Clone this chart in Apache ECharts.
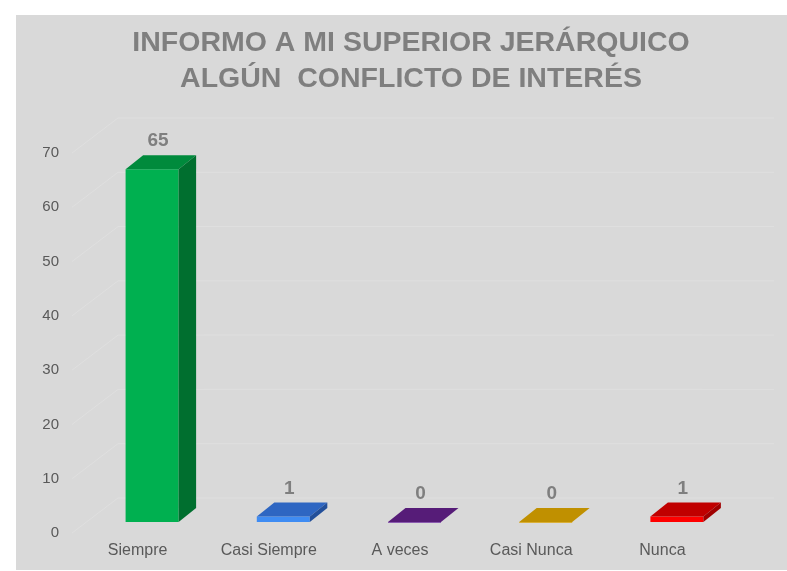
<!DOCTYPE html>
<html>
<head>
<meta charset="utf-8">
<script src="https://cdn.jsdelivr.net/npm/echarts@6/dist/echarts.min.js"></script>
<style>
  html, body { margin: 0; padding: 0; background: #ffffff; }
  #main { position: absolute; left: 16px; top: 15px; width: 771px; height: 555px; background: #d9d9d9; }
</style>
</head>
<body>
<div id="main"></div>
<script>
// datos
const categories = ['Siempre', 'Casi Siempre', 'A veces', 'Casi Nunca', 'Nunca'];
const values = [65, 1, 0, 0, 1];
const yTicks = [0, 10, 20, 30, 40, 50, 60, 70];

const frontColors = ['#00b050', '#3f8cf3', '#7030a0', '#d9a000', '#ff0000'];
const topColors = ['#008a3c', '#2e66c2', '#561c78', '#c09000', '#c00000'];
const sideColors = ['#006f2f', '#224f9a', '#3f1258', '#8f6a00', '#a00000'];

// perspectiva 3D (px)
const floorDx = 46, floorDy = 35;      // profundidad del piso
const barOffX = 14.5, barOffY = 11;    // cara frontal de la barra
const barDx = 17.5, barDy = 14;        // profundidad de la barra

const myChart = echarts.init(document.getElementById('main'));

myChart.setOption({
    animation: false,
    title: {
        text: 'INFORMO A MI SUPERIOR JERÁRQUICO\nALGÚN  CONFLICTO DE INTERÉS',
        left: 390,
        top: 5,
        textAlign: 'center',
        textStyle: {
            fontFamily: 'Liberation Sans, Arial',
            fontSize: 28.5,
            fontWeight: 'bold',
            color: '#7f7f7f',
            lineHeight: 36
        }
    },
    grid: {
        left: 56,
        right: 59,
        top: 138,
        bottom: 37
    },
    xAxis: {
        type: 'category',
        data: categories,
        axisLine: { show: false },
        axisTick: { show: false },
        axisLabel: {
            color: '#595959',
            fontFamily: 'Liberation Sans, Arial',
            fontSize: 16,
            margin: 10,
            interval: 0
        }
    },
    yAxis: {
        type: 'value',
        min: 0,
        max: 70,
        interval: 10,
        axisLine: { show: false },
        axisTick: { show: false },
        splitLine: { show: false },
        axisLabel: {
            color: '#595959',
            fontFamily: 'Liberation Sans, Arial',
            fontSize: 15,
            margin: 13
        }
    },
    series: [
        {
            // lineas de la pared lateral y de fondo
            type: 'custom',
            z: 1,
            silent: true,
            data: yTicks.map(v => [0, v]),
            renderItem: function (params, api) {
                const band = api.size([1, 0])[0]
                const p = api.coord([0, api.value(1)])
                const left = p[0] - band / 2
                const right = api.coord([categories.length - 1, api.value(1)])[0] + band / 2
                return {
                    type: 'polyline',
                    shape: {
                        points: [
                            [left, p[1]],
                            [left + floorDx, p[1] - floorDy],
                            [right + floorDx, p[1] - floorDy]
                        ]
                    },
                    style: { stroke: '#dfdfdf', lineWidth: 1, fill: null }
                }
            }
        },
        {
            type: 'custom',
            z: 3,
            data: values.map((v, i) => [i, v]),
            renderItem: function (params, api) {
                const i = api.value(0)
                const v = api.value(1)
                const band = api.size([1, 0])[0]
                const w = band * 0.404
                const base = api.coord([i, 0])
                const top = api.coord([i, v])
                const fx = base[0] + barOffX - w / 2
                const by = base[1] - barOffY
                const ty = top[1] - barOffY
                return {
                    type: 'group',
                    children: [
                        {
                            type: 'rect',
                            shape: { x: fx, y: ty, width: w, height: Math.max(by - ty, 0.8) },
                            style: { fill: frontColors[i] }
                        },
                        {
                            type: 'polygon',
                            shape: {
                                points: [[fx, ty], [fx + w, ty], [fx + w + barDx, ty - barDy], [fx + barDx, ty - barDy]]
                            },
                            style: { fill: topColors[i] }
                        },
                        {
                            type: 'polygon',
                            shape: {
                                points: [[fx + w, ty], [fx + w + barDx, ty - barDy], [fx + w + barDx, by - barDy], [fx + w, by]]
                            },
                            style: { fill: sideColors[i] }
                        },
                        {
                            type: 'text',
                            style: {
                                text: String(v),
                                x: fx + w / 2 + 6,
                                y: ty - 28,
                                align: 'center',
                                verticalAlign: 'middle',
                                fill: '#7f7f7f',
                                font: 'bold 19px "Liberation Sans", Arial'
                            }
                        }
                    ]
                }
            }
        }
    ]
});
window.addEventListener('resize', () => {
    myChart.resize()
})
</script>
</body>
</html>
